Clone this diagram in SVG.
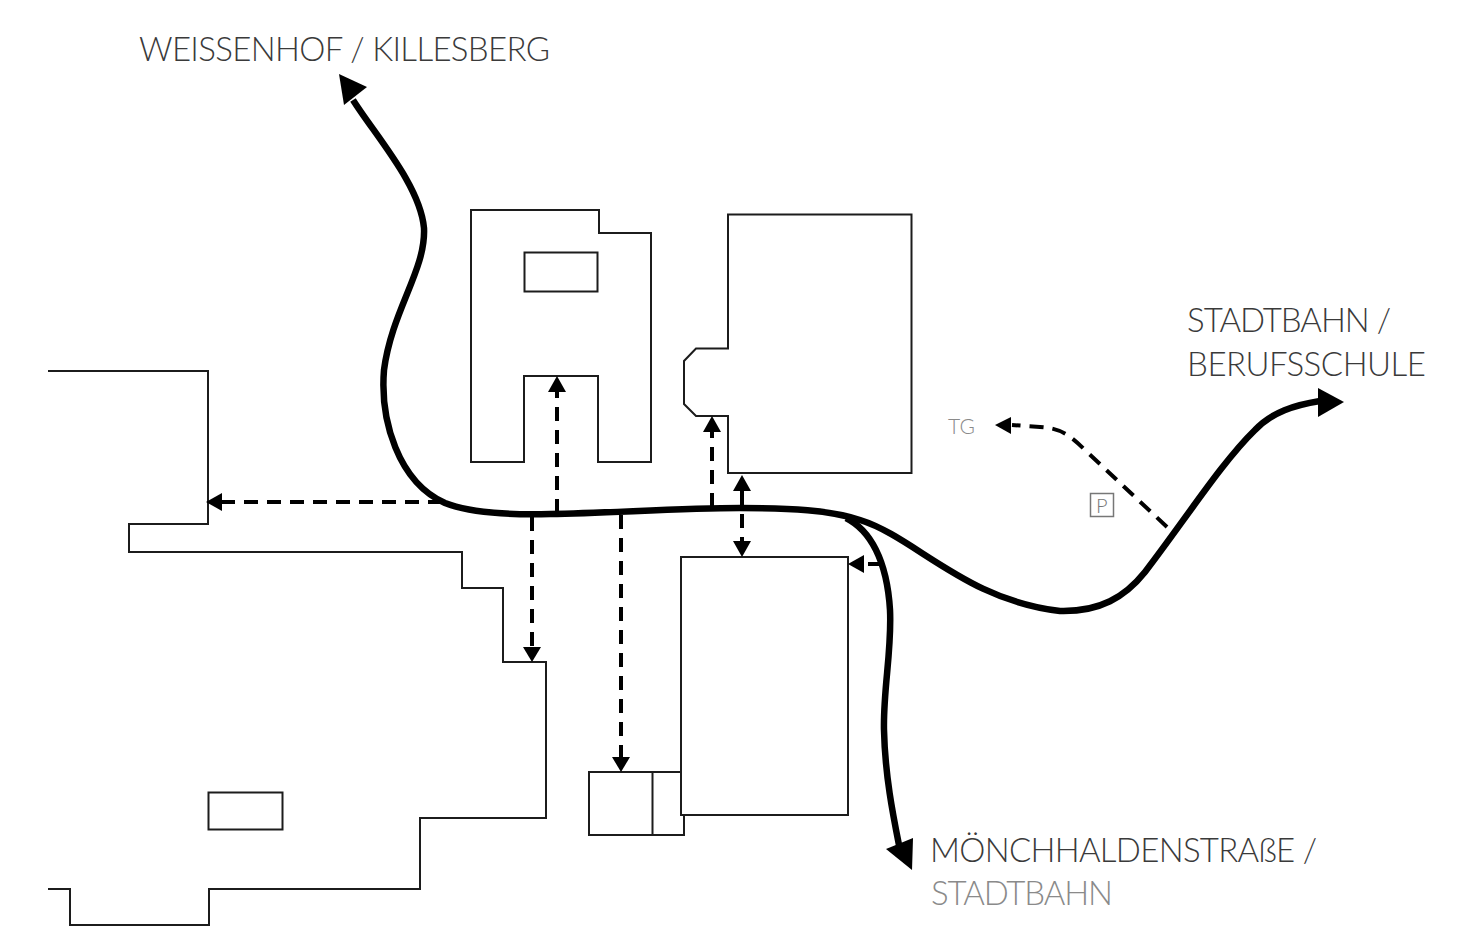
<svg xmlns="http://www.w3.org/2000/svg" width="1469" height="928" viewBox="0 0 1469 928">
<style>
.b{fill:none;stroke:#1c1c1c;stroke-width:2}
.m{fill:none;stroke:#000;stroke-width:6.500;stroke-linecap:butt}
.d{fill:none;stroke:#000;stroke-width:4;stroke-dasharray:14 9}
.h{fill:#000;stroke:none}
text{font-family:"Lato","Liberation Sans",sans-serif;font-weight:300;font-size:33px;fill:#3a3a3a}
</style>
<rect width="1469" height="928" fill="#fff"/>
<g id="building-left-upper"><path class="b" d="M48 371H208V524H129V552H462V588H503V662H546V818H420V889H209V925H70V889H48"/></g>
<g id="courtyard-left"><rect class="b" x="208.500" y="792.500" width="74" height="37"/></g>
<g id="building-north"><path class="b" d="M471 210H599V233H651V462H598V376H524V462H471Z"/></g>
<g id="courtyard-north"><rect class="b" x="524.500" y="252.500" width="73" height="39"/></g>
<g id="building-northeast"><path class="b" d="M728 214.500H911.500V473H728V416H696L684 404V361L696 348.500H728Z"/></g>
<g id="building-southeast"><rect class="b" x="681" y="557" width="167" height="258"/></g>
<g id="annex"><path class="b" d="M681 772H589V835H684V815M652.500 772V835"/></g>
<g id="connectors">
<path class="m" d="M353 100C375 135 420 185 424 228C426 270 392 310 384 370C380 420 398 482 445 503C470 513 510 515 550 514C610 513 680 508 740 508C790 508 830 510 860 520C915 537 965 600 1060 611C1100 612 1125 597 1145 572C1185 520 1222 462 1255 430C1272 412 1295 405 1320 401"/>
<path class="m" d="M846 518C870 530 887 560 890 610C892 650 883 690 884 730C885 775 893 815 899 845"/>
<path class="d" d="M442 502H222"/><path class="h" d="M206 502L222 493V511Z"/>
<path class="d" d="M557 513V392"/><path class="h" d="M557 376L548 392H566Z"/>
<path class="d" d="M712 507V432"/><path class="h" d="M712 416L703 432H721Z"/>
<path class="d" d="M742 491V541"/><path class="h" d="M742 475L733 491H751Z"/><path class="h" d="M742 557L733 541H751Z"/>
<path class="d" d="M532 517V647"/><path class="h" d="M532 662L523 647H541Z"/>
<path class="d" d="M621 515V757"/><path class="h" d="M621 772L612 757H630Z"/>
<path class="d" d="M882 564H864" stroke-dasharray="7 7"/><path class="h" d="M848 564L864 555V573Z"/>
<path class="d" d="M1167 527L1085 450C1070 435 1060 428 1040 427L1012 425"/><path class="h" d="M995 425L1011 417V434Z"/>
<path class="h" d="M339 74L367 87L344 105Z"/>
<path class="h" d="M1344 402L1318 388V417Z"/>
<path class="h" d="M912 870L886 849L913 838Z"/>
</g>
<g id="labels">
<text x="139" y="61" textLength="411">WEISSENHOF / KILLESBERG</text>
<text x="1187" y="332" textLength="204">STADTBAHN /</text>
<text x="1187" y="376" textLength="239">BERUFSSCHULE</text>
<text x="930" y="862" textLength="387">MÖNCHHALDENSTRAßE /</text>
<text x="931" y="905" textLength="182" style="fill:#8a8a8a">STADTBAHN</text>
<text x="948" y="434" textLength="27" style="font-size:21px;fill:#8a8a8a">TG</text>
</g>
<g id="parking"><rect x="1090.500" y="493.500" width="23" height="23" fill="none" stroke="#777" stroke-width="1.500"/><text x="1096" y="513" style="font-size:20px;fill:#777">P</text></g>
</svg>
